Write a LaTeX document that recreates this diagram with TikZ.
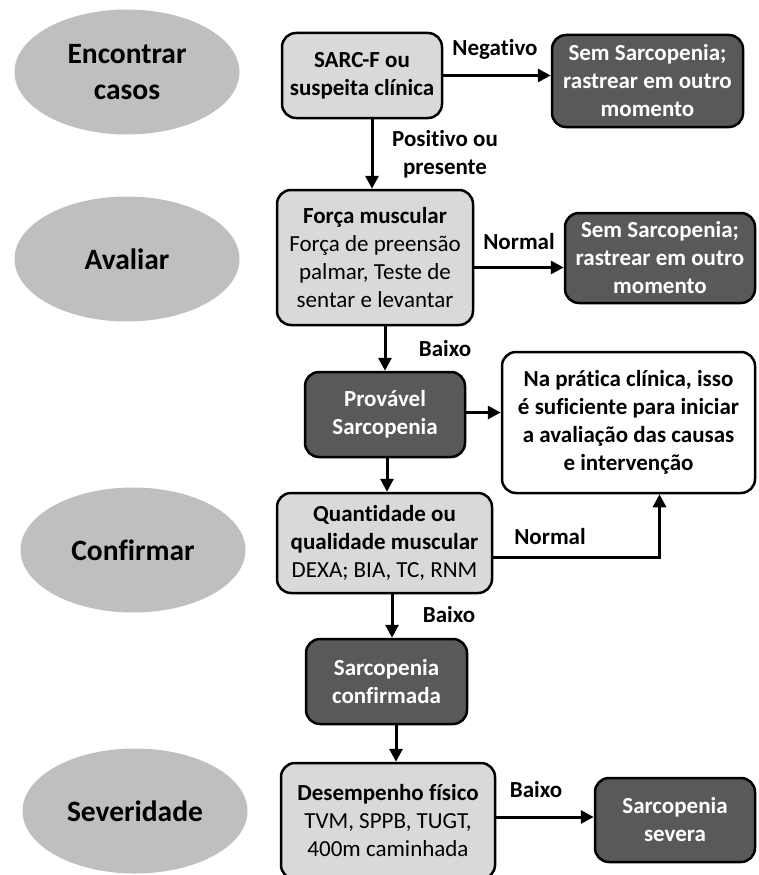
\documentclass[tikz,border=0pt]{standalone}
\usepackage{fontspec}
\setmainfont{Carlito}[Ligatures=NoCommon]
\usetikzlibrary{shapes.geometric,arrows.meta}

\definecolor{cinzaelipse}{RGB}{191,191,191}
\definecolor{cinzaclaro}{RGB}{217,217,217}
\definecolor{cinzaescuro}{RGB}{89,89,89}

\tikzset{
  etapa/.style={ellipse, fill=cinzaelipse, minimum width=225pt, minimum height=125pt,
    inner sep=0pt, align=center, font=\fontsize{29.5}{36}\selectfont\bfseries},
  caixa/.style={draw=black, line width=2.5pt, rounded corners=14pt, inner sep=0pt,
    align=center, font=\fontsize{23}{28}\selectfont},
  clara/.style={caixa, fill=cinzaclaro},
  escura/.style={caixa, fill=cinzaescuro, text=white, font=\fontsize{23}{28}\selectfont\bfseries},
  branca/.style={caixa, fill=white, font=\fontsize{23}{28}\selectfont\bfseries},
  seta/.style={line width=3pt, -{Triangle[length=13pt,width=13pt]}},
  rotulo/.style={font=\fontsize{23}{28}\selectfont\bfseries}
}

\begin{document}
\begin{tikzpicture}[x=1pt,y=-1pt]
\useasboundingbox (0,0) rectangle (758,875);
% etapas
\node[etapa] (encontrar) at (127,72) {Encontrar\\casos};
\node[etapa] (avaliar) at (127,259) {Avaliar};
\node[etapa] (confirmar) at (133,550) {Confirmar};
\node[etapa] (severidade) at (135,811) {Severidade};
% caixas
\node[clara, minimum width=160pt, minimum height=85pt, font=\fontsize{23}{28}\selectfont\bfseries] (sarcf) at (362,75.5) {SARC-F ou\\suspeita clínica};
\node[escura, minimum width=191pt, minimum height=92pt] (semsarc1) at (647.5,81) {Sem Sarcopenia;\\rastrear em outro\\momento};
\node[clara, minimum width=196pt, minimum height=135pt] (forca) at (375,257.5) {\textbf{Força muscular}\\Força de preensão\\palmar, Teste de\\sentar e levantar};
\node[escura, minimum width=190pt, minimum height=90pt] (semsarc2) at (660,258) {Sem Sarcopenia;\\rastrear em outro\\momento};
\node[escura, minimum width=160pt, minimum height=85pt] (provavel) at (385,414.5) {Provável\\Sarcopenia};
\node[branca, minimum width=253pt, minimum height=141pt] (pratica) at (628.5,422.5) {Na prática clínica, isso\\é suficiente para iniciar\\a avaliação das causas\\e intervenção};
\node[clara, minimum width=215pt, minimum height=100pt] (quantidade) at (384.5,543) {\textbf{Quantidade ou}\\\textbf{qualidade muscular}\\DEXA; BIA, TC, RNM};
\node[escura, minimum width=161pt, minimum height=85pt] (confirmada) at (386.5,681.5) {Sarcopenia\\confirmada};
\node[clara, minimum width=214pt, minimum height=116pt] (desempenho) at (388,821) {\textbf{Desempenho físico}\\TVM, SPPB, TUGT,\\400m caminhada};
\node[escura, minimum width=160pt, minimum height=84pt] (severa) at (675,820) {Sarcopenia\\severa};
% setas
\draw[seta] (sarcf.east) -- (sarcf.east -| semsarc1.west);
\draw[seta] ([xshift=10pt]sarcf.south) -- ([xshift=10pt]sarcf.south |- forca.north);
\draw[seta] ([yshift=-10pt]forca.east) -- ([yshift=-10pt]forca.east -| semsarc2.west);
\draw[seta] (provavel.north |- forca.south) -- (provavel.north);
\draw[seta] ([yshift=2pt]provavel.east) -- ([yshift=2pt]provavel.east -| pratica.west);
\draw[seta] ([xshift=2pt]provavel.south) -- ([xshift=2pt]provavel.south |- quantidade.north);
\draw[seta] ([yshift=-14pt]quantidade.east) -| ([xshift=31pt]pratica.south);
\draw[seta] ([xshift=5.5pt]confirmada.north |- quantidade.south) -- ([xshift=5.5pt]confirmada.north);
\draw[seta] ([xshift=9.5pt]confirmada.south) -- ([xshift=9.5pt]confirmada.south |- desempenho.north);
\draw[seta] ([yshift=4pt]desempenho.east) -- ([yshift=4pt]desempenho.east -| severa.west);
% rotulos
\node[rotulo] (negativo) at (495,49) {Negativo};
\node[rotulo, align=center] (positivo) at (445,154) {Positivo ou\\presente};
\node[rotulo] (normal1) at (519,242) {Normal};
\node[rotulo] (baixo1) at (445,349) {Baixo};
\node[rotulo] (normal2) at (550,537) {Normal};
\node[rotulo] (baixo2) at (449,615) {Baixo};
\node[rotulo] (baixo3) at (536,790) {Baixo};
\end{tikzpicture}
\end{document}
